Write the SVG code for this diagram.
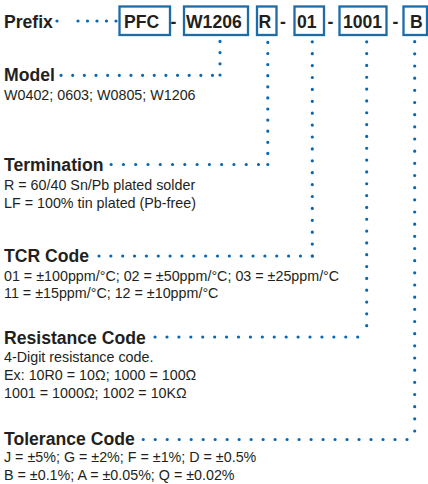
<svg xmlns="http://www.w3.org/2000/svg" width="428" height="484" viewBox="0 0 428 484">
<style>
text{font-family:"Liberation Sans",Arial,sans-serif;fill:#231f20}
.h{font-size:17.6px;font-weight:bold}
.b{font-size:14.3px}
.box{fill:#fff;stroke:#1c6ca8;stroke-width:2.3}
.d{fill:none;stroke:#0867b0;stroke-width:3.2;stroke-linecap:round}
</style>
<rect width="428" height="484" fill="#fff"/>
<g id="connectors">
<circle cx="57" cy="21" r="1.6" fill="#0867b0"/>
<path class="d" stroke-dasharray="0 9.5" d="M116 21H77.5"/>
<path class="d" stroke-dasharray="0 11.2" d="M220 75V41"/>
<path class="d" stroke-dasharray="0 11.65" d="M212.5 75.3H61"/>
<path class="d" stroke-dasharray="0 11.1" d="M267.8 164.5V42"/>
<path class="d" stroke-dasharray="0 12.28" d="M258.5 164.5H110"/>
<path class="d" stroke-dasharray="0 11.9" d="M312.3 256V41"/>
<path class="d" stroke-dasharray="0 11.85" d="M312.3 256H98.5"/>
<path class="d" stroke-dasharray="0 11.83" d="M366.7 325.7V41"/>
<path class="d" stroke-dasharray="0 11.92" d="M357.7 337H154.5"/>
<path class="d" stroke-dasharray="0 12.166" d="M414.7 431V41"/>
<path class="d" stroke-dasharray="0 11.99" d="M407 439.5H143"/>
</g>
<g id="prefix"><text class="h" x="4" y="27.5">Prefix</text></g>
<g id="code">
<rect class="box" x="119.5" y="6.5" width="50.5" height="28.5"/>
<text class="h" x="124" y="27.5">PFC</text>
<text class="h" x="170.5" y="27.5">-</text>
<rect class="box" x="184" y="6.5" width="64" height="28.5"/>
<text class="h" x="186" y="27.5">W1206</text>
<rect class="box" x="257" y="6.5" width="19.5" height="28.5"/>
<text class="h" x="258.5" y="27.5">R</text>
<text class="h" x="280" y="27.5">-</text>
<rect class="box" x="294.5" y="6.5" width="29.5" height="28.5"/>
<text class="h" x="297" y="27.5">01</text>
<text class="h" x="327.5" y="27.5">-</text>
<rect class="box" x="339.5" y="6.5" width="47" height="28.5"/>
<text class="h" x="343" y="27.5">1001</text>
<text class="h" x="392.5" y="27.5">-</text>
<rect class="box" x="403.5" y="6.5" width="23.5" height="28.5"/>
<text class="h" x="410" y="27.5">B</text>
</g>
<g id="model">
<text class="h" x="4" y="81">Model</text>
<text class="b" x="4" y="99.5">W0402; 0603; W0805; W1206</text>
</g>
<g id="termination">
<text class="h" x="4" y="171">Termination</text>
<text class="b" x="4" y="190">R = 60/40 Sn/Pb plated solder</text>
<text class="b" x="4" y="208">LF = 100% tin plated (Pb-free)</text>
</g>
<g id="tcr">
<text class="h" x="4" y="262">TCR Code</text>
<text class="b" x="4" y="280.5">01 = ±100ppm/°C; 02 = ±50ppm/°C; 03 = ±25ppm/°C</text>
<text class="b" x="4" y="298">11 = ±15ppm/°C; 12 = ±10ppm/°C</text>
</g>
<g id="resistance">
<text class="h" x="4" y="343.5">Resistance Code</text>
<text class="b" x="4" y="361.5">4-Digit resistance code.</text>
<text class="b" x="4" y="379.5">Ex: 10R0 = 10Ω; 1000 = 100Ω</text>
<text class="b" x="4" y="397.5">1001 = 1000Ω; 1002 = 10KΩ</text>
</g>
<g id="tolerance">
<text class="h" x="4" y="444.5">Tolerance Code</text>
<text class="b" x="4" y="462">J = ±5%; G = ±2%; F = ±1%; D = ±0.5%</text>
<text class="b" x="4" y="480">B = ±0.1%; A = ±0.05%; Q = ±0.02%</text>
</g>
</svg>
